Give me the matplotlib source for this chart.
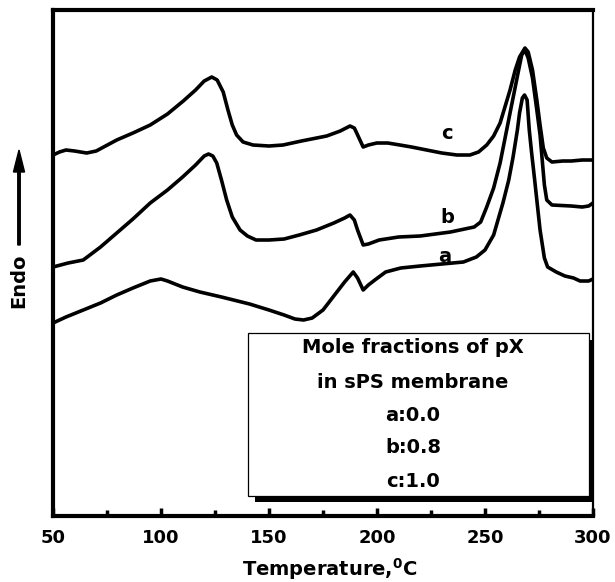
import matplotlib
matplotlib.use("Agg")
import matplotlib.pyplot as plt
from matplotlib.patches import Rectangle, FancyArrow
from matplotlib.ticker import MultipleLocator

plt.rcParams['font.family'] = ['DejaVu Sans']
plt.rcParams['font.weight'] = 'bold'
plt.rcParams['mathtext.fontset'] = 'custom'
plt.rcParams['mathtext.bf'] = 'DejaVu Sans:bold'
plt.rcParams['mathtext.rm'] = 'DejaVu Sans:bold'
plt.rcParams['mathtext.default'] = 'bf'

# DSC traces (heat flow, arbitrary units, endo up)
temp_a = [50, 56, 64, 72, 79.5, 87, 95, 100, 103, 110, 118, 128, 141, 150, 157, 162, 166,
          170, 175, 180, 185, 189, 191, 193.6, 196, 199, 204, 211, 220, 230, 240, 246, 250,
          254, 258.3, 261, 263, 265, 266, 267.3, 268.3, 269.5, 270.5, 271.6, 273, 275.5,
          277.5, 279, 283, 287, 291, 294, 298, 300]
flow_a = [193, 199, 206, 213, 221, 228, 235, 237, 235, 229, 224, 219, 212, 206, 201, 197, 196,
          198, 206, 220, 234, 244, 238, 226, 231, 236, 244, 248, 250, 252, 254, 259, 266,
          281, 313, 336, 359, 386, 403, 418, 421, 416, 386, 363, 336, 286,
          258, 249, 244, 240, 238, 235, 235, 237]

temp_b = [50, 57, 64, 72, 79.5, 87, 95, 103, 110, 116, 120, 122, 124, 125.8, 128, 130.4, 133,
          136.6, 140, 144, 150, 157, 164, 172, 180, 185, 187.5, 189.5, 191, 193.6, 196, 201,
          210, 220, 234, 245, 248, 250.8, 254, 257, 261.6, 265.3, 267, 268.5, 270, 272, 274,
          275.5, 276.5, 277.5, 278.6, 281, 290, 295, 298, 300]
flow_b = [249, 253, 256, 269, 283, 297, 313, 326, 339, 351, 360, 362, 360, 353, 336, 316, 299,
          286, 280, 276, 276, 277, 281, 286, 293, 298, 301, 296, 286, 271, 272, 276,
          279, 280, 284, 289, 294, 309, 328, 353, 403, 443, 461, 466, 458, 438, 406,
          381, 356, 331, 316, 311, 310, 309, 310, 313]

temp_c = [50, 53, 56, 60, 65.6, 70, 79.5, 87, 95, 103, 110.3, 116, 120, 123.5, 126, 128.8, 131,
          133, 135, 138, 142.6, 150, 156.5, 165, 176.7, 183, 187.5, 189.5, 190.6, 193.6, 196,
          199.9, 205, 210.6, 216, 223, 230, 237, 243, 247, 250.8, 254, 257, 261.6, 264, 266,
          268.5, 270, 272, 274, 275.5, 277, 278.6, 281, 286, 290, 295, 300]
flow_c = [361, 364, 366, 365, 363, 365, 376, 383, 391, 402, 415, 426, 435, 439, 436, 424, 406,
          391, 381, 374, 371, 370, 371, 375, 380, 385, 390, 388, 383, 369, 371,
          373, 373, 371, 369, 366, 363, 361, 361, 364, 371, 380, 393, 426, 446, 459,
          468, 464, 446, 416, 391, 368, 358, 354, 355, 355, 356, 356]

curve_names = ['a', 'b', 'c']
label_pos = [(231.5, 260), (232.4, 299), (232.4, 383)]
legend_lines = ['Mole fractions of pX', 'in sPS membrane', 'a:0.0', 'b:0.8', 'c:1.0']

fig = plt.figure(figsize=(6.15, 5.82), dpi=100)
ax = fig.add_axes([0.0862, 0.1134, 0.878, 0.8694])

for t, f in [(temp_a, flow_a), (temp_b, flow_b), (temp_c, flow_c)]:
    ax.plot(t, f, color='black', lw=2.6, solid_joinstyle='round', solid_capstyle='round')

for name, (x, y) in zip(curve_names, label_pos):
    ax.text(x, y, name, fontsize=14, fontweight='bold', ha='center', va='center')

ax.set_xlim(50, 300)
ax.set_ylim(0, 506)
ax.xaxis.set_major_locator(MultipleLocator(50))
ax.xaxis.set_minor_locator(MultipleLocator(25))
ax.tick_params(axis='x', which='major', direction='in', length=6, width=2.5,
               labelsize=13, pad=9, top=False)
ax.tick_params(axis='x', which='minor', direction='in', length=4, width=2.5, top=False)
ax.set_yticks([])
for lab in ax.get_xticklabels():
    lab.set_fontweight('bold')
for side in ['left', 'top', 'bottom']:
    ax.spines[side].set_linewidth(3)
ax.spines['right'].set_linewidth(1.6)

# legend box with shadow
ax.add_patch(Rectangle((0.374, 0.0277), 0.628, 0.3201, transform=ax.transAxes,
                       facecolor='black', edgecolor='none', zorder=5, clip_on=False))
ax.add_patch(Rectangle((0.361, 0.0395), 0.6316, 0.3222, transform=ax.transAxes,
                       facecolor='white', edgecolor='black', lw=0.9, zorder=6))
for txt, yy in zip(legend_lines, [0.334, 0.2648, 0.1996, 0.1344, 0.0672]):
    ax.text(0.6667, yy, txt, transform=ax.transAxes, fontsize=14, fontweight='bold',
            ha='center', va='center', zorder=7)

fig.text(330 / 615, 1 - 569 / 582, r'Temperature,$^{0}$C', fontsize=14, fontweight='bold',
         ha='center', va='center')

# Endo arrow
fig.text(19 / 615, 1 - 281 / 582, 'Endo', rotation=90, fontsize=14, fontweight='bold',
         ha='center', va='center')
fig.add_artist(FancyArrow(19 / 615, 1 - 245 / 582, 0, (245 - 150) / 582, width=0.004,
                          head_width=0.018, head_length=22 / 582,
                          length_includes_head=True, color='black',
                          transform=fig.transFigure))

fig.savefig('out.png', dpi=100)
